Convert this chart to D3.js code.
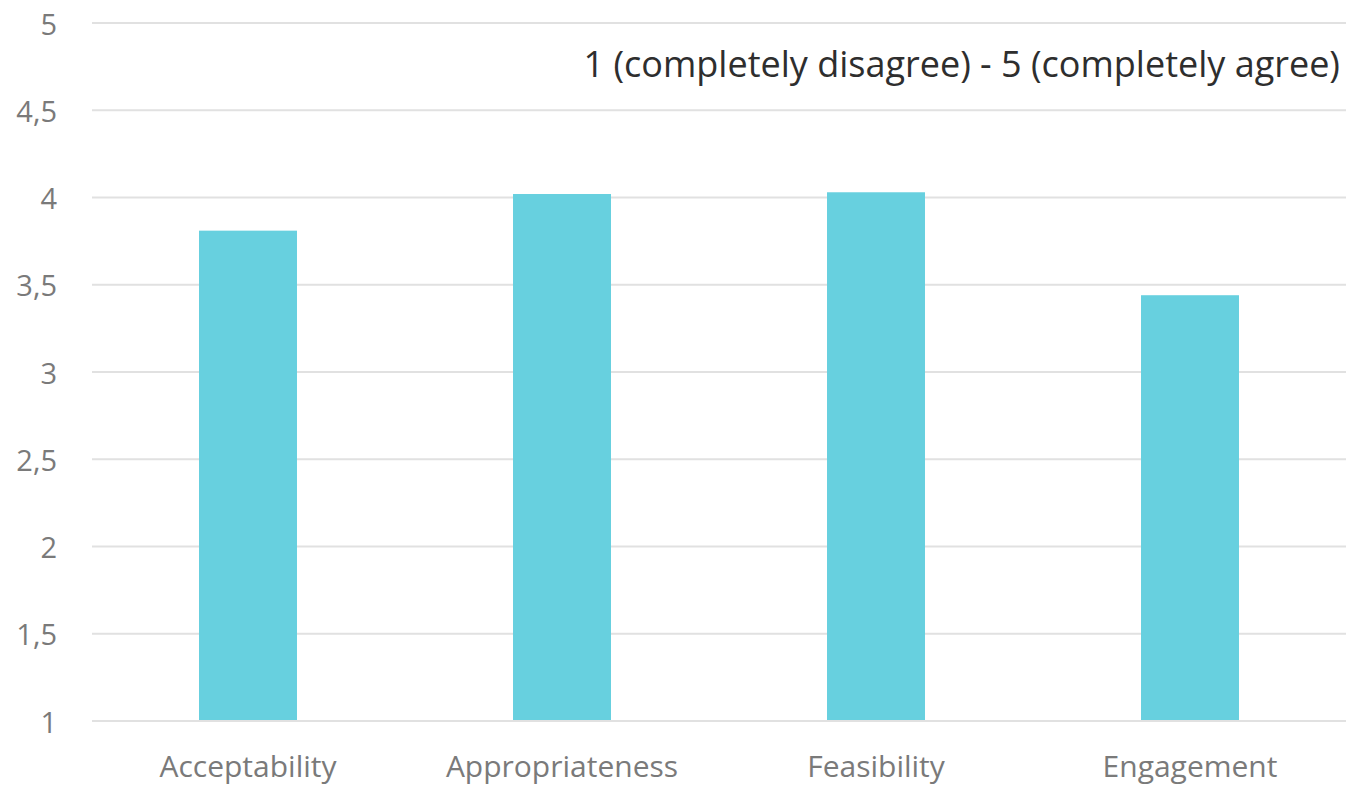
<!DOCTYPE html>
<html>
<head>
<meta charset="utf-8">
<script src="https://d3js.org/d3.v7.min.js"></script>
<style>
  body { margin: 0; background: #fff; }
  text { font-family: "Open Sans", "Noto Sans", sans-serif; }
</style>
</head>
<body>
<div id="chart"></div>
<script>
    // data
    const categories = ["Acceptability", "Appropriateness", "Feasibility", "Engagement"];
    const scores = [3.81, 4.02, 4.03, 3.44];
    const yTicks = [1, 1.5, 2, 2.5, 3, 3.5, 4, 4.5, 5];
    const note = "1 (completely disagree) - 5 (completely agree)";

    const W = 1346, H = 786;
    const margin = {top: 23, right: 0, bottom: 65, left: 92};

    const svg = d3.select("#chart").append("svg")
        .attr("width", W)
        .attr("height", H);

    const x = d3.scaleBand()
        .domain(categories)
        .range([margin.left - 1, W + 1])
        .paddingInner(0.688)
        .paddingOuter(0.344);

    const y = d3.scaleLinear()
        .domain([1, 5])
        .range([H - margin.bottom, margin.top]);

    // gridlines
    svg.append("g")
      .selectAll("line")
      .data(yTicks)
      .join("line")
        .attr("x1", margin.left)
        .attr("x2", W)
        .attr("y1", d => y(d))
        .attr("y2", d => y(d))
        .attr("stroke", "#e1e1e1")
        .attr("stroke-width", 2);

    // y labels
    const fmt = d => String(d).replace(".", ",");
    svg.append("g")
      .selectAll("text")
      .data(yTicks)
      .join("text")
        .attr("x", 57)
        .attr("y", d => y(d))
        .attr("dy", "0.4em")
        .attr("text-anchor", "end")
        .attr("fill", "#7a7a7a")
        .attr("font-size", 29)
        .text(fmt);

    // bars
    svg.append("g")
      .selectAll("rect")
      .data(scores)
      .join("rect")
        .attr("x", (d, i) => x(categories[i]))
        .attr("width", x.bandwidth())
        .attr("y", d => y(d))
        .attr("height", d => y(1) - y(d) - 1)
        .attr("fill", "#67d0df");

    // x labels
    svg.append("g")
      .selectAll("text")
      .data(categories)
      .join("text")
        .attr("x", d => x(d) + x.bandwidth() / 2)
        .attr("y", 777)
        .attr("text-anchor", "middle")
        .attr("fill", "#7a7a7a")
        .attr("font-size", 30)
        .text(d => d);

    // note
    svg.append("text")
        .attr("x", 1340)
        .attr("y", 77)
        .attr("text-anchor", "end")
        .attr("fill", "#2e2e2e")
        .attr("font-size", 36)
        .text(note);
</script>
</body>
</html>
